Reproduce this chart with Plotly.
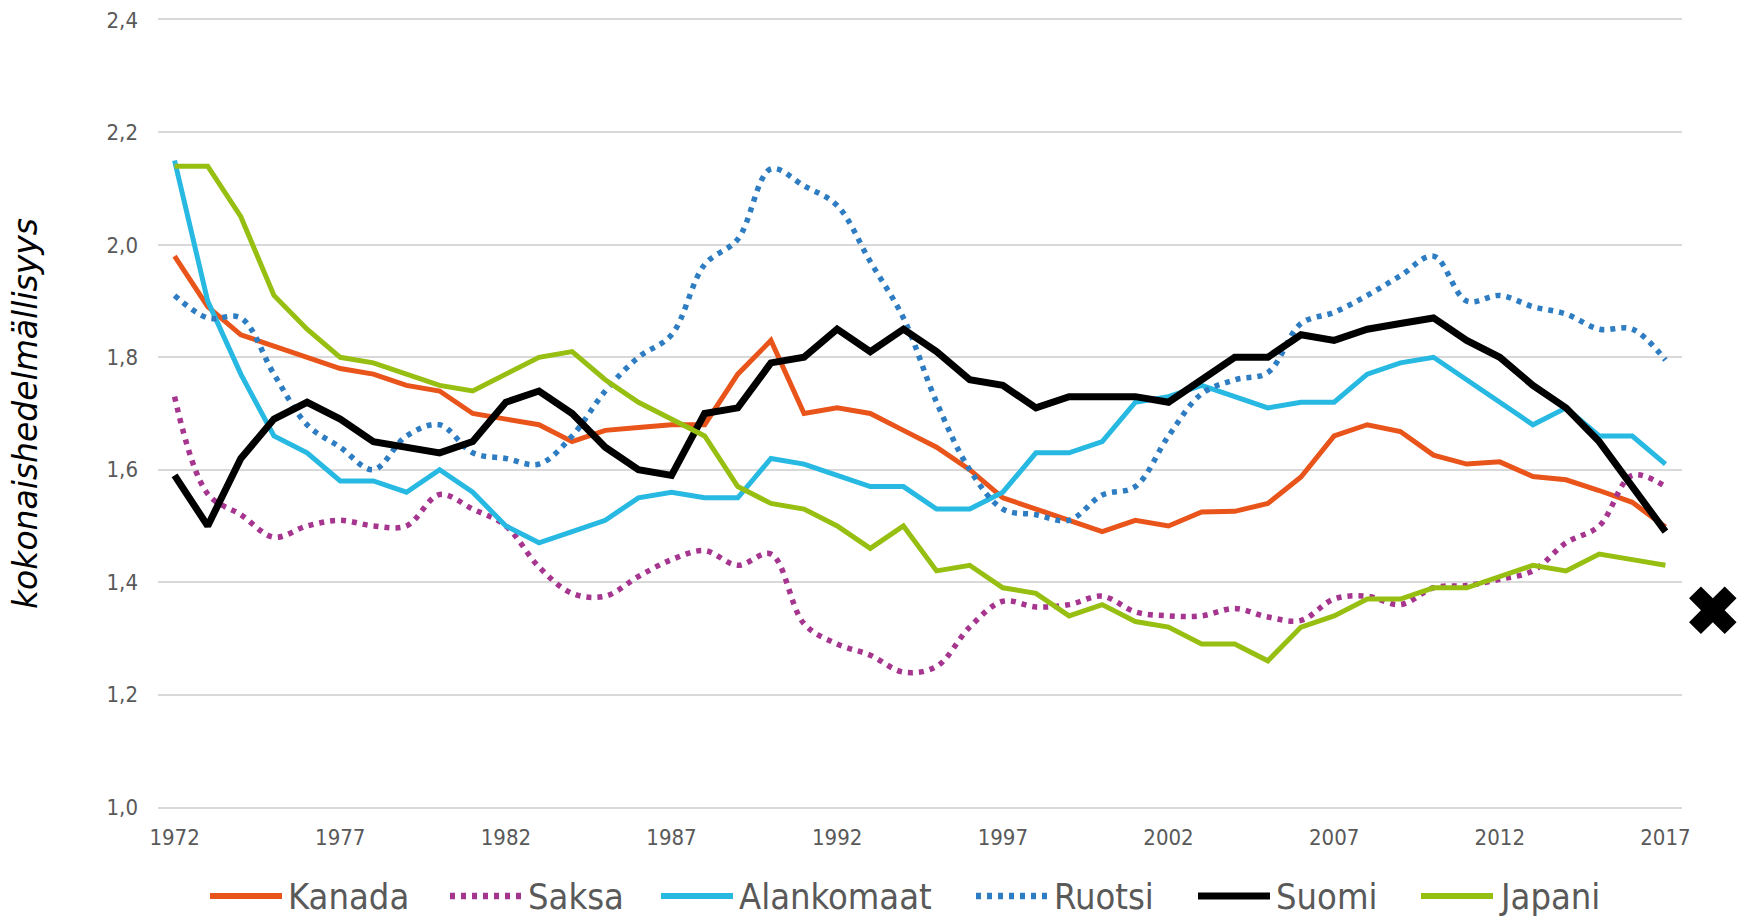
import plotly.graph_objects as go

years = list(range(1972, 2018))

kanada = [1.98, 1.89, 1.84, 1.82, 1.80, 1.78, 1.77, 1.75, 1.74, 1.70,
          1.69, 1.68, 1.65, 1.67, 1.675, 1.68, 1.68, 1.77, 1.83, 1.70,
          1.71, 1.70, 1.67, 1.64, 1.60, 1.55, 1.53, 1.51, 1.49, 1.51,
          1.50, 1.525, 1.526, 1.54, 1.587, 1.66, 1.68, 1.668, 1.626, 1.61,
          1.614, 1.588, 1.582, 1.563, 1.542, 1.498]
saksa = [1.73, 1.557, 1.52, 1.48, 1.50, 1.51, 1.50, 1.50, 1.556, 1.53,
         1.50, 1.427, 1.38, 1.375, 1.41, 1.44, 1.456, 1.43, 1.45, 1.326,
         1.29, 1.27, 1.24, 1.25, 1.32, 1.366, 1.356, 1.36, 1.375, 1.347,
         1.34, 1.34, 1.353, 1.338, 1.332, 1.37, 1.375, 1.36, 1.39, 1.394,
         1.405, 1.42, 1.47, 1.50, 1.59, 1.57]
alankomaat = [2.15, 1.90, 1.77, 1.66, 1.63, 1.58, 1.58, 1.56, 1.60, 1.56,
              1.50, 1.47, 1.49, 1.51, 1.55, 1.56, 1.55, 1.55, 1.62, 1.61,
              1.59, 1.57, 1.57, 1.53, 1.53, 1.56, 1.63, 1.63, 1.65, 1.72,
              1.73, 1.75, 1.73, 1.71, 1.72, 1.72, 1.77, 1.79, 1.80, 1.76,
              1.72, 1.68, 1.71, 1.66, 1.66, 1.61]
ruotsi = [1.91, 1.87, 1.87, 1.77, 1.68, 1.64, 1.60, 1.66, 1.68, 1.63,
          1.62, 1.61, 1.66, 1.74, 1.80, 1.84, 1.965, 2.01, 2.135, 2.105,
          2.07, 1.97, 1.87, 1.72, 1.60, 1.53, 1.52, 1.51, 1.555, 1.57,
          1.66, 1.735, 1.76, 1.773, 1.86, 1.88, 1.91, 1.945, 1.98, 1.90,
          1.91, 1.89, 1.877, 1.85, 1.85, 1.795]
suomi = [1.59, 1.50, 1.62, 1.69, 1.72, 1.69, 1.65, 1.64, 1.63, 1.65,
         1.72, 1.74, 1.70, 1.64, 1.60, 1.59, 1.70, 1.71, 1.79, 1.80,
         1.85, 1.81, 1.85, 1.81, 1.76, 1.75, 1.71, 1.73, 1.73, 1.73,
         1.72, 1.76, 1.80, 1.80, 1.84, 1.83, 1.85, 1.86, 1.87, 1.83,
         1.80, 1.75, 1.71, 1.65, 1.57, 1.49]
japani = [2.14, 2.14, 2.05, 1.91, 1.85, 1.80, 1.79, 1.77, 1.75, 1.74,
          1.77, 1.80, 1.81, 1.76, 1.72, 1.69, 1.66, 1.57, 1.54, 1.53,
          1.50, 1.46, 1.50, 1.42, 1.43, 1.39, 1.38, 1.34, 1.36, 1.33,
          1.32, 1.29, 1.29, 1.26, 1.32, 1.34, 1.37, 1.37, 1.39, 1.39,
          1.41, 1.43, 1.42, 1.45, 1.44, 1.43]

# Finland estimate drawn as a cross to the right of the plot area
arvio_x = [2018.43]
arvio_y = [1.35]

x_ticks = [1972, 1977, 1982, 1987, 1992, 1997, 2002, 2007, 2012, 2017]
y_ticks = [1.0, 1.2, 1.4, 1.6, 1.8, 2.0, 2.2, 2.4]

series = [
    ("Kanada", kanada, "#E8541A", 5, "solid", False),
    ("Saksa", saksa, "#A5358E", 5.5, "5px,6px", True),
    ("Alankomaat", alankomaat, "#27B9E2", 5, "solid", False),
    ("Ruotsi", ruotsi, "#2E7DC2", 5.5, "5px,6px", True),
    ("Suomi", suomi, "#000000", 7, "solid", False),
    ("Japani", japani, "#97BF11", 5, "solid", False),
]

# ---- geometry (pixels) ----
W, H = 1743, 919
ML, MR, MT, MB = 158, 10, 20, 112
plot_w = W - ML - MR            # total paper width
main_w = 1524                   # width of the main plot area
x_lo, x_hi = 1971.5, 2017.5
px_per_year = main_w / (x_hi - x_lo)
x2_hi = x_lo + plot_w / px_per_year
plot_h = H - MT - MB

fig = go.Figure()
for name, vals, color, w, dash, smooth in series:
    line = dict(color=color, width=w, dash=dash)
    if smooth:
        line.update(shape="spline", smoothing=1.0)
    fig.add_trace(go.Scatter(x=years, y=vals, name=name, mode="lines", line=line,
                             showlegend=False))

fig.add_trace(go.Scatter(x=arvio_x, y=arvio_y, mode="markers", showlegend=False,
                         xaxis="x2", yaxis="y2", cliponaxis=False, name="Suomi (arvio)",
                         marker=dict(symbol="x", size=42, color="#000000",
                                     line=dict(width=0))))

# ---- custom legend (long line samples like the original) ----
legend_starts = [210, 450, 661, 976, 1198, 1421]
sample_len = 72
legend_y_px = 896
ly = -(legend_y_px - (H - MB)) / plot_h
shapes, annotations = [], []
for (name, vals, color, w, dash, smooth), sx in zip(series, legend_starts):
    x0 = (sx - ML) / plot_w
    x1 = (sx + sample_len - ML) / plot_w
    shapes.append(dict(type="line", xref="paper", yref="paper", x0=x0, x1=x1,
                       y0=ly, y1=ly, line=dict(color=color, width=min(w + 1, 7),
                                               dash=dash)))
    annotations.append(dict(text=name, xref="paper", yref="paper",
                            x=(sx + sample_len + 4 - ML) / plot_w, y=ly,
                            xanchor="left", yanchor="middle", showarrow=False,
                            font=dict(family="DejaVu Sans Condensed", size=36,
                                      color="#595959")))

tick_font = dict(family="DejaVu Sans Condensed", size=22, color="#595959")

fig.update_layout(
    width=W, height=H,
    margin=dict(l=ML, r=MR, t=MT, b=MB, autoexpand=False),
    paper_bgcolor="white", plot_bgcolor="rgba(0,0,0,0)",
    separators=", ",
    showlegend=False,
    shapes=shapes,
    annotations=annotations,
    xaxis=dict(domain=[0, main_w / plot_w], range=[x_lo, x_hi], tickmode="array",
               tickvals=x_ticks, ticktext=[str(v) for v in x_ticks],
               showgrid=False, zeroline=False, showline=True, mirror=True,
               linecolor="#D9D9D9", linewidth=1.5, ticks="", automargin=False,
               ticklabelstandoff=10, tickfont=tick_font),
    yaxis=dict(range=[1.0, 2.4], tickmode="array", tickvals=y_ticks,
               tickformat=".1f", showgrid=True, gridcolor="#D9D9D9", gridwidth=1.5,
               zeroline=False, showline=False, ticks="", ticklabelstandoff=19,
               tickfont=tick_font, automargin=False,
               title=dict(text="kokonaishedelmällisyys", standoff=58,
                          font=dict(family="DejaVu Sans", size=33, color="#000000",
                                    style="italic"))),
    xaxis2=dict(domain=[0, 1], range=[x_lo, x2_hi], anchor="y2", visible=False,
                fixedrange=True, automargin=False),
    yaxis2=dict(domain=[0, 1], range=[1.0, 2.4], anchor="x2", visible=False,
                fixedrange=True, automargin=False),
)

fig.write_html("out.html", config={"displayModeBar": False},
               post_script="document.body.style.margin='0';")
